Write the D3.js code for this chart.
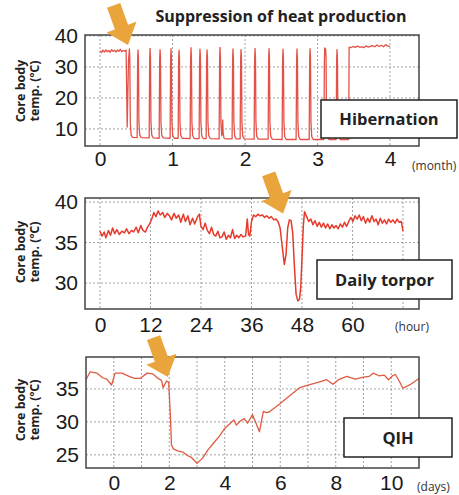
<!DOCTYPE html>
<html lang="en">
<head>
<meta charset="utf-8">
<title>Suppression of heat production</title>
<script src="https://cdn.jsdelivr.net/npm/d3@7"></script>
<style>
  body { margin: 0; background: #fff; }
  svg { display: block; }
</style>
</head>
<body>
<div id="chart"></div>
<script>
var WIDTH = 459;
var HEIGHT = 495;

// ---- data ----
// hibernation: [month, core temp]
var hibernation = [
  [0,35.2],[0.02,34.6],[0.04,35.4],[0.06,34.8],[0.08,35.5],[0.10,34.9],[0.12,35.3],[0.14,34.7],[0.16,35.6],
  [0.18,35.0],[0.20,35.4],[0.22,34.8],[0.24,35.5],[0.26,35.0],[0.28,35.7],[0.30,34.9],[0.32,35.3],[0.34,35.1],[0.36,35.4],
  [0.375,10.6],[0.393,32],[0.405,35.8],[0.411,33],[0.418,12],[0.429,8.0],[0.45,7.3],
  [0.512,7.2],[0.519,32],[0.524,35.5],[0.530,33],[0.537,12],[0.548,8.0],[0.569,7.2],
  [0.678,7.1],[0.685,32],[0.690,36.0],[0.696,33],[0.703,12],[0.714,8.0],[0.735,7.1],
  [0.816,7.0],[0.823,32],[0.828,35.6],[0.834,33],[0.841,12],[0.852,7.9],[0.873,7.1],
  [0.967,7.0],[0.974,32],[0.979,35.9],[0.985,33],[0.992,12],[1.003,7.9],[1.024,7.0],
  [1.078,7.0],[1.085,32],[1.090,35.4],[1.096,33],[1.103,12],[1.114,7.9],[1.135,7.0],
  [1.243,6.9],[1.250,32],[1.255,36.2],[1.261,33],[1.268,12],[1.279,7.8],[1.300,6.9],
  [1.367,6.9],[1.374,32],[1.379,35.7],[1.385,33],[1.392,12],[1.403,7.8],[1.424,6.9],
  [1.464,6.9],[1.471,32],[1.476,35.5],[1.482,33],[1.489,12],[1.500,7.8],[1.521,6.9],
  [1.643,6.8],[1.650,32],[1.655,36.3],[1.661,33],[1.668,12],[1.679,7.8],[1.686,8.5],[1.692,12.9],[1.698,9.0],[1.71,7.0],[1.735,6.8],
  [1.822,6.8],[1.829,32],[1.834,35.8],[1.840,33],[1.847,12],[1.858,7.7],[1.879,6.8],
  [1.933,6.8],[1.940,32],[1.945,35.6],[1.951,33],[1.958,12],[1.969,7.7],[1.990,6.8],
  [2.126,6.7],[2.133,32],[2.138,36.0],[2.144,33],[2.151,12],[2.162,7.6],[2.183,6.7],
  [2.319,6.7],[2.326,32],[2.331,35.9],[2.337,33],[2.344,12],[2.355,7.6],[2.376,6.7],
  [2.512,6.6],[2.519,32],[2.524,35.7],[2.530,33],[2.537,12],[2.548,7.5],[2.569,6.6],
  [2.705,6.6],[2.712,32],[2.717,35.8],[2.723,33],[2.730,12],[2.741,7.5],[2.762,6.6],
  [2.885,6.6],[2.892,32],[2.897,35.9],[2.903,33],[2.910,12],[2.921,7.5],[2.942,6.6],
  [3.088,6.6],[3.095,32],[3.100,36.1],[3.106,35.0],[3.112,35.8],[3.118,33],[3.125,12],[3.136,7.5],[3.157,6.6],
  [3.257,6.6],[3.264,32],[3.269,35.6],[3.275,33],[3.282,12],[3.293,7.5],[3.314,6.6],
  [3.43,6.6],[3.436,36.4],[3.46,36.2],[3.49,36.6],[3.52,36.3],[3.55,36.7],[3.58,36.4],[3.61,36.5],[3.64,36.2],
  [3.67,36.8],[3.70,36.4],[3.73,36.6],[3.76,36.9],[3.79,36.5],[3.82,37.1],[3.85,36.6],[3.88,37.0],[3.91,36.5],
  [3.94,37.2],[3.97,36.7],[4.0,36.6]
];

// daily torpor: [hour, core temp]
var dailyTorpor = [
  [0,36.4],[0.5,35.8],[1.0,36.3],[1.4,35.6],[2.0,36.5],[2.5,35.9],[3.0,36.8],[3.5,36.1],[4.0,36.6],[4.6,36.0],
  [5.2,36.4],[5.8,36.2],[6.3,36.7],[6.9,36.1],[7.5,36.5],[8.0,36.3],[8.6,36.9],[9.1,36.2],[9.7,37.1],[10.2,36.5],
  [10.8,36.3],[11.3,36.9],[11.8,37.3],[12.3,37.9],[12.8,38.7],[13.3,38.2],[13.8,38.9],[14.3,38.4],[14.9,38.7],
  [15.4,38.1],[16.0,38.6],[16.5,38.3],[17.0,37.8],[17.6,38.6],[18.1,38.0],[18.7,38.4],[19.2,37.5],[19.8,38.5],
  [20.3,37.6],[20.9,38.3],[21.4,37.2],[22.0,38.0],[22.5,37.3],[23.1,38.1],[23.6,38.5],[24.0,37.0],[24.5,36.6],
  [25.0,37.4],[25.5,36.5],[26.0,36.1],[26.5,36.9],[27.0,36.0],[27.5,35.8],[28.0,36.4],[28.5,35.6],[29.0,35.7],
  [29.5,36.3],[30.0,35.4],[30.5,35.9],[31.0,35.6],[31.5,36.6],[32.0,35.5],[32.5,35.9],[33.0,35.6],[33.5,36.0],
  [34.0,35.7],[34.6,35.8],[35.0,37.9],[35.3,36.0],[35.6,35.8],[36.0,37.6],[36.5,38.4],[37.0,38.2],[37.5,38.5],
  [38.0,38.3],[38.6,38.4],[39.1,38.1],[39.6,38.3],[40.2,38.0],[40.7,38.2],[41.3,37.8],[41.8,37.9],[42.3,37.6],
  [42.8,36.8],[43.3,34.5],[43.8,32.3],[44.2,33.5],[44.6,36.8],[45.0,37.8],[45.4,37.7],[45.8,36.2],[46.2,32.0],
  [46.6,28.6],[47.0,27.8],[47.4,28.0],[47.7,29.5],[48.0,33.0],[48.3,37.0],[48.6,38.8],[49.1,38.2],[49.6,37.6],
  [50.1,37.9],[50.6,37.2],[51.1,37.7],[51.6,37.0],[52.1,37.5],[52.6,36.9],[53.1,37.4],[53.6,36.8],[54.1,37.3],
  [54.6,36.7],[55.1,37.2],[55.6,36.8],[56.1,37.1],[56.6,36.7],[57.1,37.3],[57.6,36.9],[58.1,37.5],[58.6,37.0],
  [59.1,37.6],[59.6,38.1],[60.1,37.6],[60.6,38.3],[61.1,37.9],[61.6,38.4],[62.1,37.7],[62.6,38.2],[63.1,37.4],
  [63.6,38.0],[64.1,37.5],[64.6,38.3],[65.1,37.6],[65.6,37.9],[66.1,37.2],[66.6,38.0],[67.1,37.4],[67.6,37.8],
  [68.1,37.3],[68.6,37.9],[69.1,37.5],[69.6,37.8],[70.1,37.4],[70.6,37.9],[71.1,37.5],[71.6,37.6],[72.0,36.4]
];

// QIH: [day, core temp]
var qih = [
  [-1.0,36.4],[-0.85,37.6],[-0.6,37.4],[-0.4,36.7],[-0.25,36.5],[-0.08,35.6],[0.05,37.4],[0.3,37.4],[0.55,36.9],
  [0.75,36.6],[0.95,36.6],[1.2,37.4],[1.4,37.3],[1.6,36.6],[1.72,36.3],[1.78,35.2],[1.9,36.2],[1.98,36.0],
  [2.04,31.0],[2.08,26.5],[2.15,25.9],[2.3,25.6],[2.5,25.4],[2.65,24.9],[2.8,24.6],[3.0,23.7],[3.2,24.5],
  [3.4,25.8],[3.6,26.8],[3.8,27.8],[4.0,29.0],[4.2,29.8],[4.33,30.3],[4.42,29.5],[4.55,30.1],[4.7,30.5],
  [4.82,29.8],[5.0,31.1],[5.08,30.3],[5.25,28.5],[5.39,31.6],[5.5,31.4],[5.6,31.5],[6.0,32.8],[6.35,34.0],
  [6.7,35.2],[7.1,35.7],[7.45,36.1],[7.67,36.4],[7.9,35.7],[8.1,36.4],[8.4,36.9],[8.7,36.5],[9.0,36.8],
  [9.2,36.9],[9.35,37.4],[9.55,37.0],[9.75,37.1],[9.9,36.4],[10.05,37.0],[10.15,37.2],[10.3,36.1],[10.42,35.1],
  [10.7,35.7],[11.0,36.6]
];

var hibXTicks = [0, 1, 2, 3, 4];
var hibYTicks = [10, 20, 30, 40];
var torXTicks = [0, 12, 24, 36, 48, 60];
var torXGrid = [0, 12, 24, 36, 48, 60, 72];
var torYTicks = [30, 35, 40];
var qihXTicks = [0, 2, 4, 6, 8, 10];
var qihXGrid = [0, 1, 2, 3, 4, 5, 6, 7, 8, 9, 10];
var qihYTicks = [25, 30, 35];

var TICK_FONT = "'Liberation Sans', Arial, sans-serif";
var LABEL_FONT = "'Open Sans', 'Noto Sans', sans-serif";

const svg = d3.select("#chart")
    .append("svg")
    .attr("width", WIDTH)
    .attr("height", HEIGHT);

// title
svg.append("text")
    .attr("x", 281).attr("y", 22)
    .attr("text-anchor", "middle")
    .style("font-family", LABEL_FONT)
    .style("font-weight", 700)
    .style("font-size", "16px")
    .style("fill", "#222")
    .text("Suppression of heat production");

function panel(p) {
    var x = d3.scaleLinear().domain(p.xDomain).range([p.left, p.right]);
    var y = d3.scaleLinear().domain(p.yDomain).range([p.bottom, p.top]);
    var g = svg.append("g");

    // grid
    g.selectAll(".vg").data(p.xGrid).enter().append("line")
        .attr("x1", d => x(d)).attr("x2", d => x(d))
        .attr("y1", p.top).attr("y2", p.bottom)
        .attr("stroke", "#999").attr("stroke-width", 0.9)
        .attr("stroke-dasharray", "2,2");
    g.selectAll(".hg").data(p.yTicks).enter().append("line")
        .attr("x1", p.left).attr("x2", p.right)
        .attr("y1", d => y(d)).attr("y2", d => y(d))
        .attr("stroke", "#999").attr("stroke-width", 0.9)
        .attr("stroke-dasharray", "2,2");

    // trace
    var line = d3.line().x(d => x(d[0])).y(d => y(d[1]));
    g.append("path")
        .datum(p.data)
        .attr("d", line)
        .attr("fill", "none")
        .attr("stroke", p.color)
        .attr("stroke-width", p.lineWidth)
        .attr("stroke-linejoin", "round");

    // frame
    g.append("rect")
        .attr("x", p.left).attr("y", p.top)
        .attr("width", p.right - p.left).attr("height", p.bottom - p.top)
        .attr("fill", "none").attr("stroke", "#444").attr("stroke-width", 1.5);

    // axes (labels only)
    var ax = g.append("g")
        .attr("transform", "translate(0," + p.bottom + ")")
        .call(d3.axisBottom(x).tickValues(p.xTicks).tickFormat(d3.format("d"))
            .tickSize(0).tickPadding(p.xPad));
    var ay = g.append("g")
        .attr("transform", "translate(" + p.left + ",0)")
        .call(d3.axisLeft(y).tickValues(p.yTicks).tickFormat(d3.format("d"))
            .tickSize(0).tickPadding(7));
    [ax, ay].forEach(function(a) {
        a.select(".domain").remove();
        a.selectAll("text")
            .style("font-family", TICK_FONT)
            .style("font-size", "21px")
            .style("fill", "#1a1a1a");
    });

    // y title
    var t = g.append("text")
        .attr("transform", "translate(25," + p.titleY + ") rotate(-90)")
        .attr("text-anchor", "middle")
        .style("font-family", LABEL_FONT)
        .style("font-weight", 700)
        .style("font-size", "12.5px")
        .style("fill", "#222");
    t.append("tspan").attr("x", 0).attr("dy", 0).text("Core body");
    t.append("tspan").attr("x", 0).attr("dy", 14).text("temp. (ºC)");

    // unit
    g.append("text")
        .attr("x", p.unitX).attr("y", p.unitY)
        .style("font-family", LABEL_FONT)
        .style("font-size", "12px")
        .style("fill", "#333")
        .text(p.unit);

    // label box
    g.append("rect")
        .attr("x", p.box[0]).attr("y", p.box[1])
        .attr("width", p.box[2]).attr("height", p.box[3])
        .attr("fill", "#fff").attr("stroke", "#222").attr("stroke-width", 1.5);
    g.append("text")
        .attr("x", p.box[0] + p.box[2] / 2)
        .attr("y", p.box[1] + p.box[3] / 2 + 6)
        .attr("text-anchor", "middle")
        .style("font-family", LABEL_FONT)
        .style("font-weight", 700)
        .style("font-size", "16.5px")
        .style("fill", "#222")
        .text(p.label);

    // orange arrow, tip at a data point
    g.append("path")
        .attr("d", "M-7,-42 L7,-42 L7,-19 L16,-19 L0,0 L-16,-19 L-7,-19 Z")
        .attr("transform", "translate(" + x(p.arrow[0]) + "," + y(p.arrow[1]) + ") rotate(-20)")
        .attr("fill", "#eaa43c");
}

panel({
    data: hibernation, xDomain: [-0.207, 4.4], yDomain: [4.5, 40.3],
    left: 85, right: 419, top: 35, bottom: 146,
    xTicks: hibXTicks, xGrid: hibXTicks, yTicks: hibYTicks, xPad: 5,
    color: "#e35248", lineWidth: 1.3,
    titleY: 91, unit: "(month)", unitX: 412, unitY: 170,
    box: [321, 100, 136, 38], label: "Hibernation",
    arrow: [0.386, 37.1]
});

panel({
    data: dailyTorpor, xDomain: [-3.56, 75.8], yDomain: [26.8, 40.5],
    left: 85, right: 419, top: 198, bottom: 309,
    xTicks: torXTicks, xGrid: torXGrid, yTicks: torYTicks, xPad: 8,
    color: "#e63a2c", lineWidth: 1.5,
    titleY: 252, unit: "(hour)", unitX: 395, unitY: 331,
    box: [317, 260, 135, 39], label: "Daily torpor",
    arrow: [43.5, 38.6]
});

panel({
    data: qih, xDomain: [-1, 11], yDomain: [23.0, 39.85],
    left: 86, right: 419, top: 357, bottom: 468,
    xTicks: qihXTicks, xGrid: qihXGrid, yTicks: qihYTicks, xPad: 7,
    color: "#e05a42", lineWidth: 1.3,
    titleY: 410, unit: "(days)", unitX: 417, unitY: 491,
    box: [344, 418, 108, 39], label: "QIH",
    arrow: [1.95, 36.8]
});
</script>
</body>
</html>
